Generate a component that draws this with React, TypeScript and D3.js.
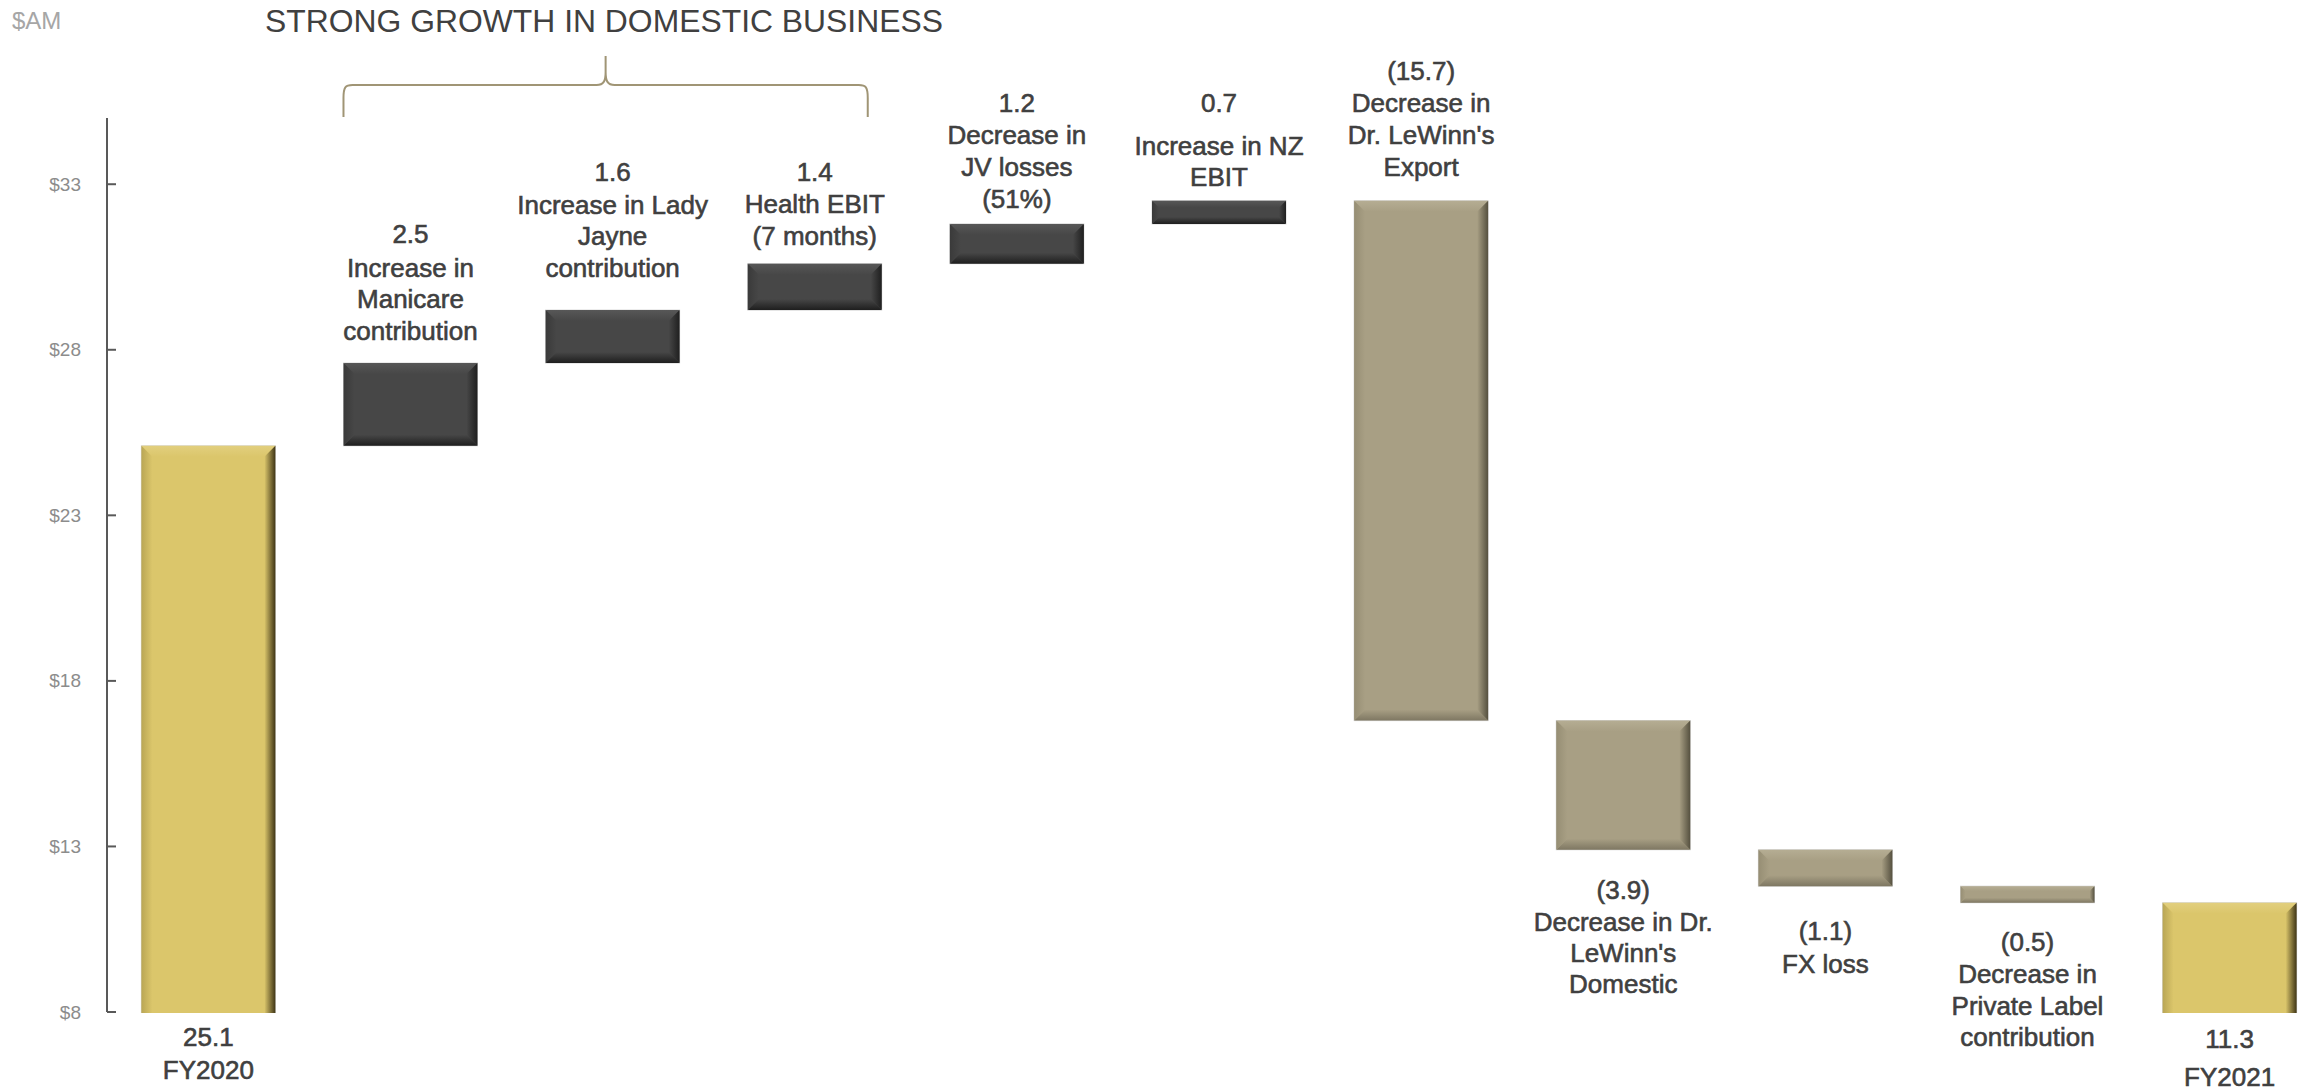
import React, { useEffect } from "react";
import * as d3 from "d3";

// ---------- data ----------
const categories = [
  "FY2020", "Manicare", "Lady Jayne", "Health", "JV", "NZ",
  "Dr. LeWinn's Export", "Dr. LeWinn's Domestic", "FX", "Private Label", "FY2021",
];
const deltas = [25.1, 2.5, 1.6, 1.4, 1.2, 0.7, -15.7, -3.9, -1.1, -0.5, 11.3];
const kinds = ["total", "up", "up", "up", "up", "up", "down", "down", "down", "down", "total"];
const labelText = [
  ["FY2020"],
  ["Increase in", "Manicare", "contribution"],
  ["Increase in Lady", "Jayne", "contribution"],
  ["Health EBIT", "(7 months)"],
  ["Decrease in", "JV losses", "(51%)"],
  ["Increase in NZ", "EBIT"],
  ["Decrease in", "Dr. LeWinn's", "Export"],
  ["Decrease in Dr.", "LeWinn's", "Domestic"],
  ["FX loss"],
  ["Decrease in", "Private Label", "contribution"],
  ["FY2021"],
];
const yTicks = [8, 13, 18, 23, 28, 33];
const yDomain = [8, 35];
const title = "STRONG GROWTH IN DOMESTIC BUSINESS";
const unitLabel = "$AM";

// ---------- layout ----------
const W = 2307;
const H = 1092;
const AXIS_X = 107;
const Y_TOP = 118;
const Y_BOTTOM = 1012;
// vertical centre of each text line (value line first), px
const labelLineY = [
  [1037, 1070],
  [234, 268, 299, 331],
  [172, 205, 236, 268],
  [172, 204, 236],
  [103, 135, 167, 199],
  [103, 146, 177],
  [71, 103, 135, 167],
  [890, 922, 953, 984],
  [931, 964],
  [942, 974, 1006, 1037],
  [1039, 1077],
];

const COLORS: Record<string, any> = {
  total: { base: "#DBC66B", top: "#E2CF7E", left: "#B9A655", right: "#3F3516", bottom: "#A8964D" },
  up: { base: "#474747", top: "#575757", left: "#3A3A3A", right: "#1F1F1F", bottom: "#1E1E1E" },
  down: { base: "#A89F84", top: "#B5AD93", left: "#968E74", right: "#55503F", bottom: "#7E7762" },
};

function fmt(v: number, kind: string) {
  if (kind === "down") return `(${Math.abs(v).toFixed(1)})`;
  return v.toFixed(1);
}

export default function App() {
  useEffect(() => {
    document.body.style.margin = "0";
    document.body.style.overflow = "hidden";
  }, []);

  const x = d3
    .scaleBand<string>()
    .domain(categories)
    .range([AXIS_X, 2331])
    .paddingInner(0.337)
    .paddingOuter(0.17);
  const y = d3.scaleLinear().domain(yDomain).range([Y_BOTTOM, Y_TOP]);

  // waterfall
  let run = 0;
  const bars = deltas.map((d, i) => {
    let lo: number, hi: number;
    if (kinds[i] === "total") {
      lo = 0;
      hi = d;
      run = d;
    } else {
      const start = run;
      run = run + d;
      lo = Math.min(start, run);
      hi = Math.max(start, run);
    }
    return { cat: categories[i], kind: kinds[i], lo, hi, delta: d, i };
  });

  const bw = x.bandwidth();

  const font = "'Liberation Sans', Arial, sans-serif";

  // brace over the domestic-growth bars
  const bx0 = x(categories[1])!;
  const bx1 = x(categories[3])! + bw - 14;
  const bmid = (bx0 + bx1) / 2;
  const bEnd = 117;
  const bLine = 85;
  const bTip = 56;
  const r = 9;
  const brace = d3.path();
  brace.moveTo(bx0, bEnd);
  brace.lineTo(bx0, bLine + r + 4);
  brace.bezierCurveTo(bx0, bLine + 2, bx0 + 2, bLine, bx0 + r, bLine);
  brace.lineTo(bmid - r, bLine);
  brace.bezierCurveTo(bmid - 2, bLine, bmid, bLine - 4, bmid, bLine - r - 4);
  brace.lineTo(bmid, bTip);
  brace.moveTo(bx1, bEnd);
  brace.lineTo(bx1, bLine + r + 4);
  brace.bezierCurveTo(bx1, bLine + 2, bx1 - 2, bLine, bx1 - r, bLine);
  brace.lineTo(bmid + r, bLine);
  brace.bezierCurveTo(bmid + 2, bLine, bmid, bLine - 4, bmid, bLine - r - 4);

  return (
    <svg width={W} height={H} style={{ position: "absolute", left: 0, top: 0, display: "block", background: "#fff" }}>
      <defs>
        <clipPath id="plotClip">
          <rect x={0} y={0} width={W} height={Y_BOTTOM + 1} />
        </clipPath>
        {Object.keys(COLORS).map((k) => {
          const c = COLORS[k];
          return (
            <React.Fragment key={k}>
              <linearGradient id={`g-${k}-top`} x1="0" y1="0" x2="0" y2="1">
                <stop offset="0" stopColor={c.top} />
                <stop offset="1" stopColor={c.base} />
              </linearGradient>
              <linearGradient id={`g-${k}-bottom`} x1="0" y1="0" x2="0" y2="1">
                <stop offset="0" stopColor={c.base} />
                <stop offset="1" stopColor={c.bottom} />
              </linearGradient>
              <linearGradient id={`g-${k}-left`} x1="0" y1="0" x2="1" y2="0">
                <stop offset="0" stopColor={c.left} />
                <stop offset="1" stopColor={c.base} />
              </linearGradient>
              <linearGradient id={`g-${k}-right`} x1="0" y1="0" x2="1" y2="0">
                <stop offset="0" stopColor={c.base} />
                <stop offset="1" stopColor={c.right} />
              </linearGradient>
            </React.Fragment>
          );
        })}
      </defs>

      {/* unit + title */}
      <text x={12} y={20} dominantBaseline="central" fontFamily={font} fontSize={24} fill="#A6A6A6">
        {unitLabel}
      </text>
      <text x={265} y={21} dominantBaseline="central" fontFamily={font} fontSize={31} fill="#404040"
        textLength={678} lengthAdjust="spacingAndGlyphs">
        {title}
      </text>

      {/* brace */}
      <path d={brace.toString()} fill="none" stroke="#A09575" strokeWidth={2} />

      {/* y axis */}
      <line x1={AXIS_X} x2={AXIS_X} y1={Y_TOP} y2={Y_BOTTOM} stroke="#595959" strokeWidth={2} />
      {yTicks.map((t) => (
        <g key={t}>
          <line x1={AXIS_X} x2={AXIS_X + 9} y1={y(t)} y2={y(t)} stroke="#595959" strokeWidth={2} />
          <text x={81} y={y(t)} textAnchor="end" dominantBaseline="central" fontFamily={font} fontSize={19} fill="#8C8C8C">
            {`$${t}`}
          </text>
        </g>
      ))}

      {/* bars */}
      <g clipPath="url(#plotClip)">
        {bars.map((b) => {
          const x0 = x(b.cat)!;
          const x1 = x0 + bw;
          const y0 = y(b.hi);
          const isTotal = b.kind === "total";
          const y1 = isTotal ? Y_BOTTOM + 40 : y(b.lo);
          const h = y1 - y0;
          const bv = Math.min(11, h * 0.3);
          const k = b.kind;
          const pts = (a: number[][]) => a.map((p) => p.join(",")).join(" ");
          return (
            <g key={b.cat}>
              <rect x={x0} y={y0} width={bw} height={h} fill={COLORS[k].base} stroke="#D6D6D6" strokeWidth={1} />
              <polygon points={pts([[x0, y0], [x1, y0], [x1 - bv, y0 + bv], [x0 + bv, y0 + bv]])} fill={`url(#g-${k}-top)`} />
              <polygon points={pts([[x0, y1], [x1, y1], [x1 - bv, y1 - bv], [x0 + bv, y1 - bv]])} fill={`url(#g-${k}-bottom)`} />
              <polygon points={pts([[x0, y0], [x0 + bv, y0 + bv], [x0 + bv, y1 - bv], [x0, y1]])} fill={`url(#g-${k}-left)`} />
              <polygon points={pts([[x1, y0], [x1, y1], [x1 - bv, y1 - bv], [x1 - bv, y0 + bv]])} fill={`url(#g-${k}-right)`} />
            </g>
          );
        })}
      </g>

      {/* labels */}
      {bars.map((b, i) => {
        const cx = x(b.cat)! + bw / 2;
        const lines = [fmt(b.delta, b.kind), ...labelText[i]];
        return (
          <g key={`l-${b.cat}`}>
            {lines.map((ln, j) => (
              <text key={j} x={cx} y={labelLineY[i][j]} textAnchor="middle" dominantBaseline="central"
                fontFamily={font} fontSize={26} fill="#404040" stroke="#404040" strokeWidth={0.6}>
                {ln}
              </text>
            ))}
          </g>
        );
      })}
    </svg>
  );
}
